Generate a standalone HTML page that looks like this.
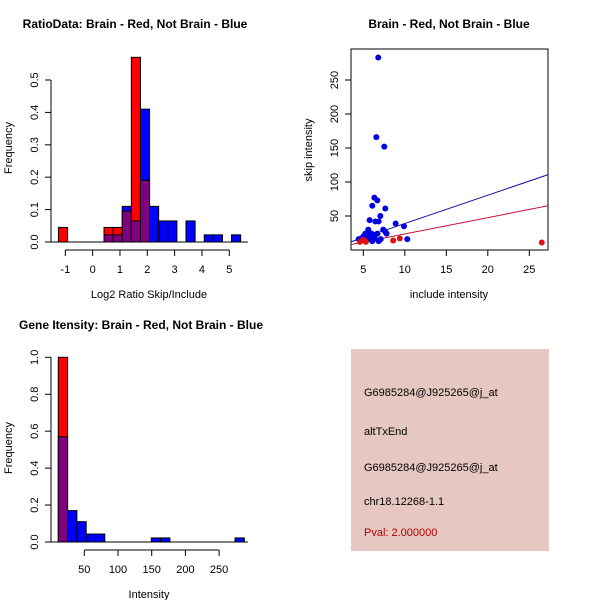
<!DOCTYPE html>
<html><head><meta charset="utf-8"><style>
body{margin:0;background:#fff}
svg{display:block;font-family:"Liberation Sans",Arial,sans-serif}
</style></head><body>
<svg id="c" width="600" height="600" viewBox="0 0 600 600">
<rect width="600" height="600" fill="#fff"/>
<g id="h1"></g>
<g id="sc"></g>
<g id="h2"></g>
<g>
<rect x="351" y="349" width="198" height="202" fill="#e6c7c1"/>
<g font-size="11" fill="#000">
<text x="364" y="396">G6985284@J925265@j_at</text>
<text x="364" y="435">altTxEnd</text>
<text x="364" y="471">G6985284@J925265@j_at</text>
<text x="364" y="505">chr18.12268-1.1</text>
<text x="364" y="536" fill="#b00000">Pval: 2.000000</text>
</g></g>
</svg>
<script>
// Histogram 1 data (bins of width 1/3 starting at -1.25)
const h1Red  = [0.045,0,0,0,0,0.045,0.045,0.095,0.57,0.19,0,0,0,0,0,0,0,0,0,0];
const h1Blue = [0,0,0,0,0,0.022,0.022,0.11,0.065,0.41,0.11,0.065,0.065,0,0.065,0,0.022,0.022,0,0.022];
const h1XTicks = [-1,0,1,2,3,4,5];
const h1YTicks = [0,0.1,0.2,0.3,0.4,0.5];
// Scatter data
const blueX = [6.8,6.57,7.53,6.33,6.69,6.08,7.65,7.05,5.76,6.45,6.85,8.9,9.9,10.3,5.6,5.56,5.24,6.0,6.7,7.4,7.65,7.8,5.0,5.4,5.8,6.3,7.1,6.85,6.08,4.76,4.44,6.4,5.6];
const blueY = [283,166,152,77,73,65,61,50,44,42,42,39,35,16,30,25,24,24,24,30,27,24,20,20,20,22,16,13,13,17,16,17,16];
const redX = [4.6,5.3,8.6,9.4,26.5,5.0];
const redY = [12,12,14,17,11,15];
const blueFit = [-2.6,4.16];
const redFit = [-0.4,2.4];
const scXTicks = [5,10,15,20,25];
const scYTicks = [50,100,150,200,250];
// Histogram 2 data (bins width 13.8 starting at 11.4)
const h2Red  = [1.0,0,0,0,0,0,0,0,0,0,0,0,0,0,0,0,0,0,0,0];
const h2Blue = [0.57,0.17,0.11,0.043,0.043,0,0,0,0,0,0.022,0.022,0,0,0,0,0,0,0,0.022];
const h2XTicks = [50,100,150,200,250];
const h2YTicks = [0,0.2,0.4,0.6,0.8,1.0];

const NS="http://www.w3.org/2000/svg";
function mk(p,tag,at){const e=document.createElementNS(NS,tag);for(const k in at)e.setAttribute(k,at[k]);p.appendChild(e);return e;}

function hist(g,o){
  const sx=v=>o.x0+(v-o.v0)*o.kx, sy=v=>o.y0-v*o.ky;
  const n=o.red.length;
  for(let i=0;i<n;i++){
    const a=o.start+i*o.w,b=a+o.w,r=o.red[i],bl=o.blue[i];
    const lo=Math.min(r,bl),hi=Math.max(r,bl);
    if(hi>0){
      const e=mk(g,'rect',{x:sx(a),y:sy(hi),width:sx(b)-sx(a),height:sy(0)-sy(hi),fill:r>bl?'#ff0000':'#0000ff',stroke:'#000','stroke-width':1});
      
      
    }
    if(lo>0){
      const e=mk(g,'rect',{x:sx(a),y:sy(lo),width:sx(b)-sx(a),height:sy(0)-sy(lo),fill:'#800080',stroke:'#000','stroke-width':1});
      
      
    }
  }
  mk(g,'line',{x1:48,x2:248,y1:o.y0,y2:o.y0,stroke:'#000'});
  // x axis
  const ax=o.y0+8;
  const xa=mk(g,'g',{});
  
  
  mk(xa,'line',{x1:sx(o.xt[0]),x2:sx(o.xt[o.xt.length-1]),y1:ax,y2:ax,stroke:'#000'});
  o.xt.forEach(t=>{mk(xa,'line',{x1:sx(t),x2:sx(t),y1:ax,y2:ax+6,stroke:'#000'});
    const tx=mk(xa,'text',{x:sx(t),y:ax+23,'text-anchor':'middle','font-size':11});tx.textContent=t;
    
    });
  const ya=mk(g,'g',{});
  
  
  mk(ya,'line',{x1:51,x2:51,y1:sy(o.yt[0]),y2:sy(o.yt[o.yt.length-1]),stroke:'#000'});
  o.yt.forEach(t=>{mk(ya,'line',{x1:45,x2:51,y1:sy(t),y2:sy(t),stroke:'#000'});
    const tx=mk(ya,'text',{x:38,y:sy(t),'text-anchor':'middle','font-size':11,transform:`rotate(-90 38 ${sy(t)})`});tx.textContent=o.yfmt(t);
    
    });
  const yl=mk(g,'text',{x:12,y:o.ylabY,'text-anchor':'middle','font-size':11,transform:`rotate(-90 12 ${o.ylabY})`});yl.textContent='Frequency';
  
  
  const xl=mk(g,'text',{x:149,y:o.xlabY,'text-anchor':'middle','font-size':11});xl.textContent=o.xlab;
  
  
  const ti=mk(g,'text',{x:o.titleX,y:o.titleY,'text-anchor':'middle','font-size':12,'font-weight':'bold'});ti.textContent=o.title;
  
  
}
hist(document.getElementById('h1'),{red:h1Red,blue:h1Blue,start:-1.25,w:1/3,x0:65.3,v0:-1,kx:27.33,y0:242,ky:324,xt:h1XTicks,yt:h1YTicks,yfmt:t=>t.toFixed(1),ylabY:148,xlabY:298,xlab:'Log2 Ratio Skip/Include',title:'RatioData: Brain - Red, Not Brain - Blue',titleX:135,titleY:28});
hist(document.getElementById('h2'),{red:h2Red,blue:h2Blue,start:11.4,w:13.8,x0:84.3,v0:50,kx:0.674,y0:542,ky:184.7,xt:h2XTicks,yt:h2YTicks,yfmt:t=>t.toFixed(1),ylabY:448,xlabY:598,xlab:'Intensity',title:'Gene Itensity: Brain - Red, Not Brain - Blue',titleX:141,titleY:329});

// scatter
(function(){
  const g=document.getElementById('sc');
  const sx=v=>363.3+(v-5)*8.3, sy=v=>216-(v-50)*0.68;
  mk(g,'rect',{x:351,y:49,width:197,height:201,fill:'none',stroke:'#000'});
  const xa=mk(g,'g',{});
  
  
  mk(xa,'line',{x1:sx(5),x2:sx(25),y1:250,y2:250,stroke:'#000'});
  scXTicks.forEach(t=>{mk(xa,'line',{x1:sx(t),x2:sx(t),y1:250,y2:256,stroke:'#000'});
    const tx=mk(xa,'text',{x:sx(t),y:273,'text-anchor':'middle','font-size':11});tx.textContent=t;
    
    });
  const ya=mk(g,'g',{});
  
  
  scYTicks.forEach(t=>{mk(ya,'line',{x1:345,x2:351,y1:sy(t),y2:sy(t),stroke:'#000'});
    const tx=mk(ya,'text',{x:338,y:sy(t),'text-anchor':'middle','font-size':11,transform:`rotate(-90 338 ${sy(t)})`});tx.textContent=t;
    
    });
  const cp=mk(g,'clipPath',{id:'scclip'});mk(cp,'rect',{x:351,y:49,width:197,height:201});
  const lg=mk(g,'g',{'clip-path':'url(#scclip)'});
  [[blueFit,'#1010a0','blue-fit-line'],[redFit,'#c01030','red-fit-line']].forEach(([f,c,n])=>{
    const l=mk(lg,'line',{x1:sx(3.5),y1:sy(f[0]+f[1]*3.5),x2:sx(27.3),y2:sy(f[0]+f[1]*27.3),stroke:c,'stroke-width':1});
    
    
  });
  blueX.forEach((x,i)=>{const p=mk(lg,'circle',{cx:sx(x),cy:sy(blueY[i]),r:3,fill:'#0000e0'});
    
    });
  redX.forEach((x,i)=>{const p=mk(lg,'circle',{cx:sx(x),cy:sy(redY[i]),r:3,fill:'#e01010'});
    
    });
  const yl=mk(g,'text',{x:312,y:150,'text-anchor':'middle','font-size':11,transform:'rotate(-90 312 150)'});yl.textContent='skip intensity';
  
  
  const xl=mk(g,'text',{x:449,y:298,'text-anchor':'middle','font-size':11});xl.textContent='include intensity';
  
  
  const ti=mk(g,'text',{x:449,y:28,'text-anchor':'middle','font-size':12,'font-weight':'bold'});ti.textContent='Brain - Red, Not Brain - Blue';
  
  
})();
</script>
</body></html>
